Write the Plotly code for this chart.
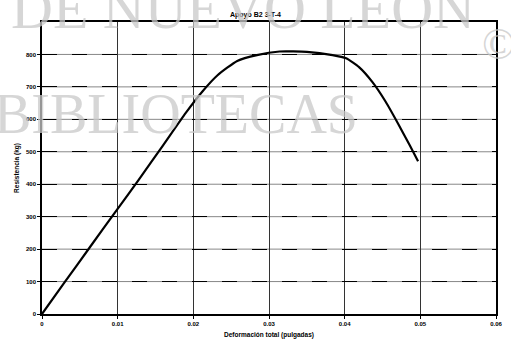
import plotly.graph_objects as go

# Load-deformation curve for specimen B2 3-T-4
deformacion = [0.0, 0.0030, 0.0063, 0.0098, 0.0128, 0.0160, 0.0190, 0.0212, 0.0232,
               0.0258, 0.0284, 0.0314, 0.0350, 0.0384, 0.0402, 0.0419, 0.0437,
               0.0454, 0.0471, 0.0486, 0.0497]
carga = [0, 98, 205, 318, 414, 520, 620, 686, 736,
         780, 798, 809, 808, 798, 788, 761, 714,
         655, 585, 520, 471]

x_ticks = [0, 0.01, 0.02, 0.03, 0.04, 0.05, 0.06]
x_labels = ["0", "0.01", "0.02", "0.03", "0.04", "0.05", "0.06"]
y_ticks = [0, 100, 200, 300, 400, 500, 600, 700, 800]
y_labels = ["0", "100", "200", "300", "400", "500", "600", "700", "800"]

titulo = "Apoyo B2 3-T-4"
titulo_x = "Deformación total (pulgadas)"
titulo_y = "Resistencia (kg)"

fig = go.Figure()

fig.add_trace(go.Scatter(
    x=deformacion, y=carga, mode="lines",
    line=dict(color="black", width=2.2, shape="spline", smoothing=0.5),
    hoverinfo="skip", showlegend=False,
))

tick_font = dict(family="Liberation Sans", size=6, color="black", weight="bold")
label_font = dict(family="Liberation Sans", size=6.5, color="#000000", weight="bold")

fig.update_layout(
    width=511, height=349,
    margin=dict(l=42, r=9, t=22, b=35),
    paper_bgcolor="white", plot_bgcolor="white",
    title=dict(text=titulo, x=0.5, xanchor="center", y=0.958, yanchor="middle",
               font=dict(family="Liberation Sans", size=7, color="black", weight="bold")),
    xaxis=dict(
        range=[0, 0.06], tickvals=x_ticks, ticktext=x_labels,
        showgrid=True, gridcolor="#333333", gridwidth=1,
        showline=True, linecolor="black", linewidth=1.5, mirror=True,
        ticks="outside", ticklen=3, tickcolor="black",
        tickfont=tick_font, zeroline=False,
        title=dict(text=titulo_x, standoff=6, font=label_font),
    ),
    yaxis=dict(
        range=[0, 900], tickvals=y_ticks, ticktext=y_labels,
        showgrid=True, gridcolor="black", gridwidth=1.3, griddash="longdash",
        showline=True, linecolor="black", linewidth=1.5, mirror=True,
        ticks="outside", ticklen=3, tickcolor="black",
        tickfont=tick_font, zeroline=False,
        title=dict(text=titulo_y, standoff=6, font=label_font),
    ),
)

# Thin solid line underneath the dashed horizontal grid
for v in y_ticks[1:]:
    fig.add_shape(type="line", xref="x", yref="y", x0=0, x1=0.06, y0=v, y1=v,
                  line=dict(color="#555555", width=0.7), layer="below")

# Library watermark
marca = dict(family="Liberation Serif", color="rgba(200,200,200,0.75)")
fig.add_annotation(text="DE NUEVO LEON", xref="paper", yref="paper",
                   x=(246 - 42) / 460, y=(349 - 35 - 8) / 292, xanchor="center", yanchor="middle",
                   showarrow=False, font=dict(size=58, **marca))
fig.add_annotation(text="BIBLIOTECAS", xref="paper", yref="paper",
                   x=(178 - 42) / 460, y=(314 - 114) / 292, xanchor="center", yanchor="middle",
                   showarrow=False, font=dict(size=56, **marca))
fig.add_annotation(text="©", xref="paper", yref="paper",
                   x=(505 - 42) / 460, y=(314 - 45) / 292, xanchor="center", yanchor="middle",
                   showarrow=False, font=dict(size=44, **marca))

fig.write_html("out.html")
